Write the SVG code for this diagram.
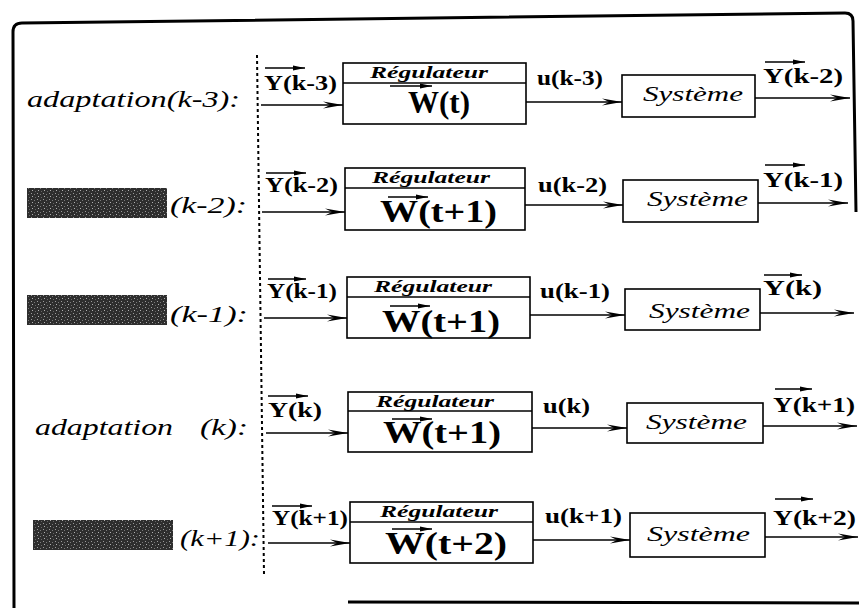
<svg xmlns="http://www.w3.org/2000/svg" width="859" height="608" viewBox="0 0 859 608">
<style>
.bd{fill:none;stroke:#000;stroke-width:3}
.box{fill:#fff;stroke:#000;stroke-width:1.6}
.ln{fill:none;stroke:#000;stroke-width:1.5}
.big{marker-end:url(#ah)}
.vec{fill:none;stroke:#000;stroke-width:1.3;marker-end:url(#va)}
.dot{fill:none;stroke:#000;stroke-width:2;stroke-dasharray:3 3}
text{font-family:"Liberation Serif","Times New Roman",serif;fill:#000}
.lab{font-style:italic;font-size:23px}
.sig{font-weight:bold;font-size:20px}
.reg{font-style:italic;font-weight:bold;font-size:17px}
.w{font-weight:bold;font-size:32px}
.sys{font-style:italic;font-size:22px}
</style>
<defs>
<marker id="ah" markerUnits="userSpaceOnUse" markerWidth="20" markerHeight="8" refX="20" refY="4" orient="auto">
<path d="M0,0.5 L20,4 L0,7.5 L7,4 z" fill="#000"/>
</marker>
<marker id="va" markerUnits="userSpaceOnUse" markerWidth="12" markerHeight="6" refX="12" refY="3" orient="auto">
<path d="M0,0.5 L12,3 L0,5.5 z" fill="#000"/>
</marker>
<pattern id="speck" width="6" height="6" patternUnits="userSpaceOnUse">
<rect width="6" height="6" fill="#2e2e2e"/>
<rect x="1" y="1" width="1" height="1" fill="#9a9a9a"/>
<rect x="4" y="2" width="1" height="1" fill="#7a7a7a"/>
<rect x="2" y="4" width="1" height="1" fill="#b0b0b0"/>
<rect x="5" y="5" width="1" height="1" fill="#666"/>
</pattern>
</defs>

<g id="frame">
<path class="bd" d="M14,608 L13,32 Q13,23 22,23 L845,13 Q853,13 853,21 L856,212"/>
<path class="bd" d="M348,602 L859,603"/>
<path class="dot" d="M257,55 L264,574"/>
</g>

<g id="row-labels">
<text class="lab" x="27" y="107" textLength="213" lengthAdjust="spacingAndGlyphs">adaptation(k-3):</text>
<rect x="27" y="188" width="140" height="30" fill="url(#speck)"/>
<text class="lab" x="170" y="213" textLength="77" lengthAdjust="spacingAndGlyphs">(k-2):</text>
<rect x="27" y="295" width="140" height="30" fill="url(#speck)"/>
<text class="lab" x="170" y="322" textLength="78" lengthAdjust="spacingAndGlyphs">(k-1):</text>
<text class="lab" x="35" y="435" textLength="138" lengthAdjust="spacingAndGlyphs">adaptation</text>
<text class="lab" x="200" y="435" textLength="48" lengthAdjust="spacingAndGlyphs">(k):</text>
<rect x="33" y="520" width="140" height="30" fill="url(#speck)"/>
<text class="lab" x="180" y="546" textLength="80" lengthAdjust="spacingAndGlyphs">(k+1):</text>
</g>

<g id="reg1">
<rect class="box" x="343" y="63" width="183" height="61"/>
<line class="ln" x1="343" y1="83" x2="526" y2="83"/>
<text class="reg" x="370" y="78" textLength="118" lengthAdjust="spacingAndGlyphs">Régulateur</text>
<line class="vec" x1="390" y1="86" x2="432" y2="86"/>
<text class="w" x="408" y="113" textLength="62" lengthAdjust="spacingAndGlyphs">W(t)</text>
</g>
<g id="sys1">
<rect class="box" x="622" y="75" width="133" height="42"/>
<text class="sys" x="643" y="101" textLength="100" lengthAdjust="spacingAndGlyphs">Système</text>
</g>

<g id="reg2">
<rect class="box" x="345" y="168" width="180" height="62"/>
<line class="ln" x1="345" y1="188" x2="525" y2="188"/>
<text class="reg" x="372" y="183" textLength="118" lengthAdjust="spacingAndGlyphs">Régulateur</text>
<line class="vec" x1="388" y1="197" x2="428" y2="197"/>
<text class="w" x="380" y="222" textLength="117" lengthAdjust="spacingAndGlyphs">W(t+1)</text>
</g>
<g id="sys2">
<rect class="box" x="623" y="180" width="135" height="42"/>
<text class="sys" x="647" y="206" textLength="101" lengthAdjust="spacingAndGlyphs">Système</text>
</g>

<g id="reg3">
<rect class="box" x="347" y="277" width="183" height="61"/>
<line class="ln" x1="347" y1="297" x2="530" y2="297"/>
<text class="reg" x="374" y="292" textLength="118" lengthAdjust="spacingAndGlyphs">Régulateur</text>
<line class="vec" x1="390" y1="306" x2="430" y2="306"/>
<text class="w" x="382" y="332" textLength="118" lengthAdjust="spacingAndGlyphs">W(t+1)</text>
</g>
<g id="sys3">
<rect class="box" x="625" y="289" width="135" height="41"/>
<text class="sys" x="649" y="318" textLength="101" lengthAdjust="spacingAndGlyphs">Système</text>
</g>

<g id="reg4">
<rect class="box" x="348" y="392" width="184" height="60"/>
<line class="ln" x1="348" y1="411" x2="532" y2="411"/>
<text class="reg" x="376" y="407" textLength="118" lengthAdjust="spacingAndGlyphs">Régulateur</text>
<line class="vec" x1="392" y1="419" x2="432" y2="419"/>
<text class="w" x="383" y="443" textLength="118" lengthAdjust="spacingAndGlyphs">W(t+1)</text>
</g>
<g id="sys4">
<rect class="box" x="627" y="403" width="136" height="40"/>
<text class="sys" x="646" y="429" textLength="101" lengthAdjust="spacingAndGlyphs">Système</text>
</g>

<g id="reg5">
<rect class="box" x="350" y="502" width="183" height="61"/>
<line class="ln" x1="350" y1="522" x2="533" y2="522"/>
<text class="reg" x="380" y="517" textLength="118" lengthAdjust="spacingAndGlyphs">Régulateur</text>
<line class="vec" x1="392" y1="529" x2="432" y2="529"/>
<text class="w" x="385" y="554" textLength="122" lengthAdjust="spacingAndGlyphs">W(t+2)</text>
</g>
<g id="sys5">
<rect class="box" x="630" y="513" width="135" height="44"/>
<text class="sys" x="647" y="541" textLength="103" lengthAdjust="spacingAndGlyphs">Système</text>
</g>

<g id="connectors">
<line class="ln big" x1="261" y1="105" x2="343" y2="105"/>
<line class="ln big" x1="526" y1="102" x2="622" y2="102"/>
<line class="ln big" x1="755" y1="98" x2="850" y2="98"/>
<line class="ln big" x1="262" y1="212" x2="345" y2="212"/>
<line class="ln big" x1="525" y1="205" x2="623" y2="205"/>
<line class="ln big" x1="758" y1="203" x2="848" y2="203"/>
<line class="ln big" x1="264" y1="318" x2="347" y2="318"/>
<line class="ln big" x1="530" y1="315" x2="625" y2="315"/>
<line class="ln big" x1="760" y1="313" x2="854" y2="313"/>
<line class="ln big" x1="266" y1="433" x2="348" y2="433"/>
<line class="ln big" x1="532" y1="428" x2="627" y2="428"/>
<line class="ln big" x1="763" y1="426" x2="857" y2="426"/>
<line class="ln big" x1="268" y1="543" x2="350" y2="543"/>
<line class="ln big" x1="533" y1="540" x2="630" y2="540"/>
<line class="ln big" x1="765" y1="537" x2="858" y2="537"/>
</g>

<g id="signals">
<text class="sig" x="264" y="90" textLength="73" lengthAdjust="spacingAndGlyphs">Y(k-3)</text>
<line class="vec" x1="265" y1="68" x2="305" y2="68"/>
<text class="sig" x="537" y="85" textLength="66" lengthAdjust="spacingAndGlyphs">u(k-3)</text>
<text class="sig" x="763" y="83" textLength="80" lengthAdjust="spacingAndGlyphs">Y(k-2)</text>
<line class="vec" x1="765" y1="62" x2="805" y2="62"/>

<text class="sig" x="265" y="192" textLength="73" lengthAdjust="spacingAndGlyphs">Y(k-2)</text>
<line class="vec" x1="266" y1="173" x2="306" y2="173"/>
<text class="sig" x="538" y="192" textLength="69" lengthAdjust="spacingAndGlyphs">u(k-2)</text>
<text class="sig" x="763" y="187" textLength="80" lengthAdjust="spacingAndGlyphs">Y(k-1)</text>
<line class="vec" x1="765" y1="165" x2="805" y2="165"/>

<text class="sig" x="267" y="298" textLength="70" lengthAdjust="spacingAndGlyphs">Y(k-1)</text>
<line class="vec" x1="268" y1="279" x2="306" y2="279"/>
<text class="sig" x="540" y="298" textLength="70" lengthAdjust="spacingAndGlyphs">u(k-1)</text>
<text class="sig" x="763" y="295" textLength="59" lengthAdjust="spacingAndGlyphs">Y(k)</text>
<line class="vec" x1="764" y1="275" x2="802" y2="275"/>

<text class="sig" x="268" y="417" textLength="54" lengthAdjust="spacingAndGlyphs">Y(k)</text>
<line class="vec" x1="268" y1="396" x2="308" y2="396"/>
<text class="sig" x="543" y="413" textLength="47" lengthAdjust="spacingAndGlyphs">u(k)</text>
<text class="sig" x="773" y="412" textLength="82" lengthAdjust="spacingAndGlyphs">Y(k+1)</text>
<line class="vec" x1="775" y1="389" x2="812" y2="389"/>

<text class="sig" x="272" y="525" textLength="76" lengthAdjust="spacingAndGlyphs">Y(k+1)</text>
<line class="vec" x1="272" y1="506" x2="312" y2="506"/>
<text class="sig" x="545" y="523" textLength="77" lengthAdjust="spacingAndGlyphs">u(k+1)</text>
<text class="sig" x="773" y="525" textLength="83" lengthAdjust="spacingAndGlyphs">Y(k+2)</text>
<line class="vec" x1="775" y1="499" x2="813" y2="499"/>
</g>
</svg>
